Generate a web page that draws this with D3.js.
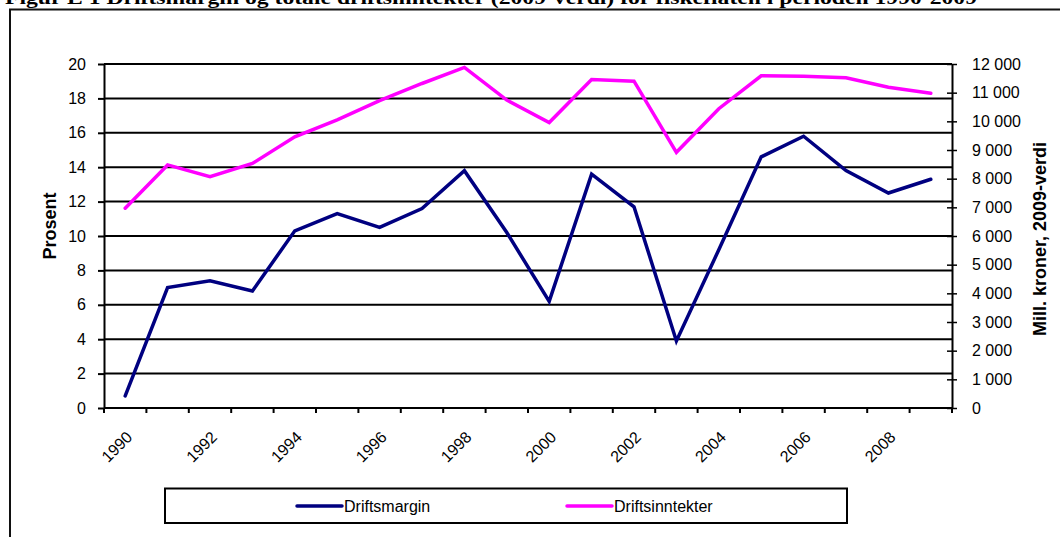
<!DOCTYPE html>
<html>
<head>
<meta charset="utf-8">
<script src="https://cdn.jsdelivr.net/npm/d3@7"></script>
<style>
  html, body { margin: 0; padding: 0; background: #fff; }
  svg { display: block; }
</style>
</head>
<body>
<svg id="chart" width="1060" height="537"></svg>
<script>
const years = ["1990","1991","1992","1993","1994","1995","1996","1997","1998","1999",
               "2000","2001","2002","2003","2004","2005","2006","2007","2008","2009"];
const labeledYears = ["1990","1992","1994","1996","1998","2000","2002","2004","2006","2008"];
const driftsmargin = [0.7, 7.0, 7.4, 6.8, 10.3, 11.3, 10.5, 11.6, 13.8, 10.2,
                      6.2, 13.6, 11.7, 3.9, 9.2, 14.6, 15.8, 13.8, 12.5, 13.3];
const driftsinntekter = [6970, 8480, 8070, 8530, 9460, 10050, 10720, 11320, 11880, 10740,
                         9960, 11460, 11400, 8920, 10440, 11590, 11570, 11520, 11190, 10980];
const leftTicks = [0, 2, 4, 6, 8, 10, 12, 14, 16, 18, 20];
const rightTicks = [0, 1000, 2000, 3000, 4000, 5000, 6000, 7000, 8000, 9000, 10000, 11000, 12000];
const titleText = "Figur E 1 Driftsmargin og totale driftsinntekter (2009-verdi) for fiskeflåten i perioden 1990-2009";
const seriesNames = ["Driftsmargin", "Driftsinntekter"];
const seriesColors = ["#000080", "#FF00FF"];

const svg = d3.select("#chart");
const pL = 104, pR = 952, pT = 64, pB = 408;
const sans = "Arial, 'Liberation Sans', sans-serif";

// outer frame
svg.append("rect").attr("x", 10).attr("y", 9.5).attr("width", 1100).attr("height", 600)
  .attr("fill", "none").attr("stroke", "#111").attr("stroke-width", 2);

// title (clipped at top, as in the reference)
svg.append("text").attr("x", 5).attr("y", 3.5)
  .attr("font-family", "'Times New Roman', 'Liberation Serif', serif")
  .attr("font-weight", "bold").attr("font-size", 19)
  .attr("textLength", 972).attr("lengthAdjust", "spacingAndGlyphs")
  .text(titleText);

const x = d3.scaleBand().domain(years).range([pL, pR]).padding(0);
const yL = d3.scaleLinear().domain([0, 20]).range([pB, pT]);
const yR = d3.scaleLinear().domain([0, 12000]).range([pB, pT]);

// gridlines
svg.append("g").selectAll("line").data(leftTicks.filter(d => d > 0)).join("line")
  .attr("x1", pL).attr("x2", pR)
  .attr("y1", d => yL(d)).attr("y2", d => yL(d))
  .attr("stroke", "#000").attr("stroke-width", 2);

// left axis
const gL = svg.append("g").attr("transform", `translate(${pL},0)`)
  .call(d3.axisLeft(yL).tickValues(leftTicks).tickSize(6).tickPadding(12).tickSizeOuter(0));
gL.select(".domain").attr("stroke", "#000").attr("stroke-width", 2);
gL.selectAll(".tick line").attr("stroke", "#000").attr("stroke-width", 2);
gL.selectAll(".tick text").attr("font-family", sans).attr("font-size", 16).attr("fill", "#000");

// right axis
const loc = d3.formatLocale({decimal: ",", thousands: " ", grouping: [3], currency: ["", ""]});
const gR = svg.append("g").attr("transform", `translate(${pR},0)`)
  .call(d3.axisRight(yR).tickValues(rightTicks).tickSize(5).tickPadding(15).tickSizeOuter(0)
    .tickFormat(loc.format(",")));
gR.select(".domain").attr("stroke", "#000").attr("stroke-width", 2);
gR.selectAll(".tick line").attr("x1", -5).attr("stroke", "#000").attr("stroke-width", 1.5);
gR.selectAll(".tick text").attr("font-family", sans).attr("font-size", 16).attr("fill", "#000");

// x axis
const gX = svg.append("g").attr("transform", `translate(0,${pB})`);
gX.append("line").attr("x1", pL).attr("x2", pR).attr("y1", 0).attr("y2", 0)
  .attr("stroke", "#000").attr("stroke-width", 2);
const boundaries = years.map(d => x(d)).concat([x(years[years.length - 1]) + x.bandwidth()]);
gX.selectAll("line.tk").data(boundaries).join("line").attr("class", "tk")
  .attr("x1", d => d).attr("x2", d => d).attr("y1", 0).attr("y2", 5)
  .attr("stroke", "#000").attr("stroke-width", 2);
gX.selectAll("text").data(labeledYears).join("text")
  .attr("transform", d => `translate(${x(d) + x.bandwidth() / 2},22) rotate(-45)`)
  .attr("text-anchor", "end").attr("dy", "0.72em")
  .attr("font-family", sans).attr("font-size", 16).attr("fill", "#000")
  .text(d => d);

// axis titles
svg.append("text").attr("transform", "translate(56,226) rotate(-90)")
  .attr("text-anchor", "middle").attr("font-family", sans).attr("font-weight", "bold")
  .attr("font-size", 18).text("Prosent");
svg.append("text").attr("transform", "translate(1046,239) rotate(-90)")
  .attr("text-anchor", "middle").attr("font-family", sans).attr("font-weight", "bold")
  .attr("font-size", 18).text("Mill. kroner, 2009-verdi");

// lines
const cx = d => x(d) + x.bandwidth() / 2;
const lineL = d3.line().x((d, i) => cx(years[i])).y(d => yL(d));
const lineR = d3.line().x((d, i) => cx(years[i])).y(d => yR(d));
svg.append("path").datum(driftsinntekter).attr("d", lineR)
  .attr("fill", "none").attr("stroke", seriesColors[1]).attr("stroke-width", 3.5)
  .attr("stroke-linejoin", "miter").attr("stroke-linecap", "round");
svg.append("path").datum(driftsmargin).attr("d", lineL)
  .attr("fill", "none").attr("stroke", seriesColors[0]).attr("stroke-width", 3.5)
  .attr("stroke-linejoin", "miter").attr("stroke-linecap", "round");

// legend
const lg = svg.append("g");
lg.append("rect").attr("x", 165).attr("y", 488.5).attr("width", 682).attr("height", 34.5)
  .attr("fill", "#fff").attr("stroke", "#000").attr("stroke-width", 2);
const legX = [297, 567];
seriesNames.forEach((name, i) => {
  lg.append("line").attr("x1", legX[i]).attr("x2", legX[i] + 45).attr("y1", 506).attr("y2", 506)
    .attr("stroke", seriesColors[i]).attr("stroke-width", 3.5).attr("stroke-linecap", "round");
  lg.append("text").attr("x", legX[i] + 47).attr("y", 506).attr("dy", "0.36em")
    .attr("font-family", sans).attr("font-size", 16).attr("fill", "#000").text(name);
});
</script>
</body>
</html>
